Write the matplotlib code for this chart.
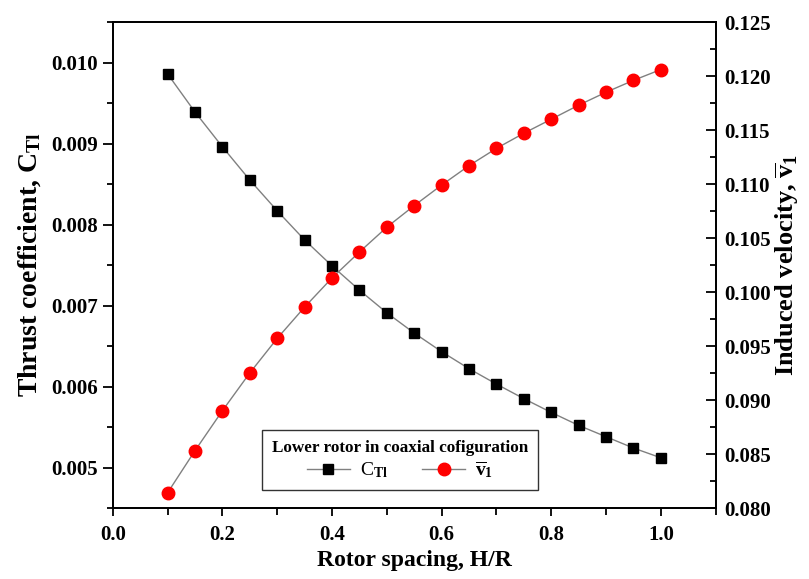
import matplotlib
matplotlib.use("Agg")
from matplotlib import pyplot as plt
from matplotlib.ticker import MultipleLocator, FormatStrFormatter

plt.rcParams['font.family'] = ['Liberation Serif', 'DejaVu Serif']
plt.rcParams['font.weight'] = 'bold'
plt.rcParams['mathtext.fontset'] = 'custom'
plt.rcParams['mathtext.rm'] = 'Liberation Serif'
plt.rcParams['mathtext.it'] = 'Liberation Serif:italic'
plt.rcParams['mathtext.bf'] = 'Liberation Serif:bold'

# rotor spacing H/R
spacing = [0.10, 0.15, 0.20, 0.25, 0.30, 0.35, 0.40, 0.45, 0.50, 0.55,
           0.60, 0.65, 0.70, 0.75, 0.80, 0.85, 0.90, 0.95, 1.00]
# thrust coefficient of lower rotor
ct_lower = [0.00986, 0.00939, 0.00896, 0.00855, 0.00817, 0.00781, 0.00749,
            0.00719, 0.00691, 0.00666, 0.00643, 0.00622, 0.00603, 0.00585,
            0.00568, 0.00552, 0.00538, 0.00524, 0.00512]
# induced velocity of lower rotor
v_lower = [0.0814, 0.0853, 0.0890, 0.0925, 0.0957, 0.0986, 0.1013,
           0.1037, 0.1060, 0.1080, 0.1099, 0.1117, 0.1133, 0.1147,
           0.1160, 0.1173, 0.1185, 0.1196, 0.1206]

fig = plt.figure(figsize=(8.09, 5.79), dpi=100)
ax = fig.add_axes([0.1393, 0.1226, 0.7454, 0.8394])
ax2 = ax.twinx()

l1, = ax.plot(spacing, ct_lower, color='#808080', lw=1.0, marker='s',
              ms=7.5, mfc='black', mec='black', label=r'C$_{\mathrm{Tl}}$')
l2, = ax2.plot(spacing, v_lower, color='#808080', lw=1.0, marker='o',
               ms=9, mfc='red', mec='red', label=r'$\overline{\mathrm{v}}_{\mathrm{1}}$')

ax.set_xlim(0.0, 1.1)
ax.set_ylim(0.0045, 0.0105)
ax2.set_ylim(0.080, 0.125)

ax.xaxis.set_major_locator(MultipleLocator(0.2))
ax.xaxis.set_minor_locator(MultipleLocator(0.1))
ax.xaxis.set_major_formatter(FormatStrFormatter('%.1f'))
ax.yaxis.set_major_locator(MultipleLocator(0.001))
ax.yaxis.set_minor_locator(MultipleLocator(0.0005))
ax.yaxis.set_major_formatter(FormatStrFormatter('%.3f'))
ax2.yaxis.set_major_locator(MultipleLocator(0.005))
ax2.yaxis.set_minor_locator(MultipleLocator(0.0025))
ax2.yaxis.set_major_formatter(FormatStrFormatter('%.3f'))

ax.tick_params(axis='x', which='both', direction='out', top=False,
               labelsize=15, width=1.3, pad=6)
ax.tick_params(axis='x', which='major', length=6)
ax.tick_params(axis='x', which='minor', length=5)
ax.tick_params(axis='y', which='both', direction='out', labelsize=15, width=1.3)
ax.tick_params(axis='y', which='major', length=7)
ax.tick_params(axis='y', which='minor', length=4)
ax2.tick_params(axis='y', which='both', direction='in', labelsize=15, width=1.3, pad=6)
ax2.tick_params(axis='y', which='major', length=7)
ax2.tick_params(axis='y', which='minor', length=4)

for a in (ax, ax2):
    for sp in a.spines.values():
        sp.set_linewidth(1.3)

ax.set_xlabel('Rotor spacing, H/R', fontsize=17, fontweight='bold', labelpad=4)
ax.set_ylabel(r'Thrust coefficient, C$_{\mathbf{Tl}}$', fontsize=20, fontweight='bold', labelpad=6)
ax2.set_ylabel(r'Induced velocity, $\overline{\mathbf{v}}_{\mathbf{1}}$', fontsize=19,
               fontweight='bold', labelpad=2)

leg = ax2.legend([l1, l2], [l1.get_label(), l2.get_label()], ncol=2,
                 loc='lower center', bbox_to_anchor=(0.4765, 0.037),
                 title='Lower rotor in coaxial cofiguration',
                 fontsize=14, fancybox=False, edgecolor='black',
                 handlelength=2.2, borderpad=0.5, labelspacing=0.2,
                 columnspacing=1.8, handletextpad=0.5, borderaxespad=0)
leg.get_title().set_fontweight('bold')
leg.get_title().set_fontsize(12.3)
leg.get_frame().set_linewidth(1.0)
for t in leg.get_texts():
    t.set_fontweight('normal')

fig.savefig('out.png', dpi=100)
